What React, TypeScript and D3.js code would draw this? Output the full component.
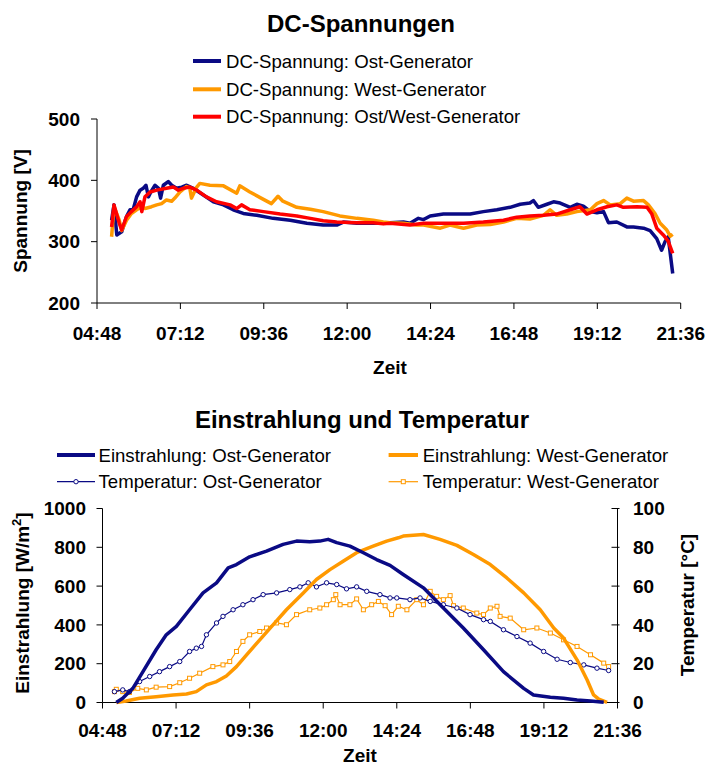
import React from 'react';
import * as d3 from 'd3';

const FONT = "'Liberation Sans', Arial, Helvetica, sans-serif";
const NAVY = '#0a0a84';
const ORANGE = '#ff9900';
const RED = '#ff0000';

// axis ticks
const timeTicks = [4.8, 7.2, 9.6, 12, 14.4, 16.8, 19.2, 21.6];
const voltTicks = [200, 300, 400, 500];
const irrTicks = [0, 200, 400, 600, 800, 1000];
const tempTicks = [0, 20, 40, 60, 80, 100];

// legend labels
const dcLabels = [
  'DC-Spannung: Ost-Generator',
  'DC-Spannung: West-Generator',
  'DC-Spannung: Ost/West-Generator',
];
const envLabels = [
  'Einstrahlung: Ost-Generator',
  'Einstrahlung: West-Generator',
  'Temperatur: Ost-Generator',
  'Temperatur: West-Generator',
];

// DC-Spannung Ost (time in decimal hours, V)
const dcOstTime = [5.22, 5.29, 5.37, 5.51, 5.65, 5.75, 5.84, 5.94, 6.04, 6.13, 6.21, 6.28, 6.35, 6.47, 6.57, 6.63, 6.71, 6.85, 6.95, 7.09, 7.24, 7.38, 7.57, 7.86, 8.15, 8.44, 8.72, 9.01, 9.4, 9.87, 10.36, 10.84, 11.31, 11.7, 11.89, 12.28, 12.75, 13.23, 13.62, 13.81, 14.05, 14.2, 14.39, 14.77, 15.15, 15.54, 15.92, 16.31, 16.69, 16.98, 17.26, 17.36, 17.5, 17.75, 17.94, 18.13, 18.42, 18.61, 18.8, 19.0, 19.19, 19.38, 19.52, 19.76, 20.05, 20.24, 20.53, 20.72, 20.91, 21.05, 21.15, 21.24, 21.37];
const dcOstV = [335, 360, 311, 316, 341, 352, 352, 373, 384, 387, 392, 373, 381, 392, 387, 371, 392, 398, 392, 387, 389, 392, 387, 376, 365, 360, 352, 346, 343, 338, 335, 330, 327, 327, 332, 330, 330, 331, 332, 330, 338, 336, 342, 345, 345, 345, 349, 352, 356, 361, 363, 367, 356, 361, 365, 363, 356, 361, 358, 349, 347, 349, 331, 332, 324, 324, 322, 318, 305, 286, 300, 308, 248];

// DC-Spannung West
const dcWestTime = [5.22, 5.29, 5.44, 5.51, 5.65, 5.79, 5.94, 6.09, 6.18, 6.37, 6.52, 6.66, 6.8, 6.95, 7.04, 7.19, 7.38, 7.47, 7.52, 7.67, 7.76, 8.05, 8.44, 8.82, 8.91, 9.2, 9.59, 9.82, 10.01, 10.15, 10.55, 10.94, 11.31, 11.79, 12.28, 12.75, 13.04, 13.23, 13.62, 14.0, 14.2, 14.68, 14.96, 15.35, 15.73, 16.12, 16.5, 16.88, 17.26, 17.65, 17.84, 18.03, 18.32, 18.61, 19.0, 19.19, 19.38, 19.57, 19.86, 20.05, 20.24, 20.53, 20.67, 20.86, 21.01, 21.2, 21.3, 21.37];
const dcWestV = [308, 357, 335, 318, 335, 346, 352, 357, 354, 357, 360, 362, 368, 366, 371, 381, 390, 387, 371, 389, 395, 392, 391, 379, 391, 381, 369, 362, 374, 366, 356, 353, 349, 342, 338, 335, 332, 331, 330, 327, 327, 322, 327, 322, 327, 328, 332, 338, 337, 343, 352, 343, 345, 349, 352, 362, 367, 360, 362, 371, 366, 367, 360, 346, 330, 319, 309, 312];

// DC-Spannung Ost/West
const dcBothTime = [5.22, 5.29, 5.44, 5.51, 5.65, 5.79, 5.94, 6.04, 6.09, 6.18, 6.33, 6.52, 6.8, 7.0, 7.14, 7.28, 7.47, 7.67, 7.95, 8.24, 8.63, 8.82, 8.96, 9.2, 9.59, 10.07, 10.55, 10.94, 11.31, 11.7, 12.28, 12.75, 13.04, 13.23, 13.81, 14.2, 14.77, 15.35, 15.92, 16.5, 16.88, 17.26, 17.65, 18.03, 18.42, 18.7, 18.9, 19.19, 19.48, 19.76, 19.95, 20.34, 20.63, 20.77, 20.91, 21.1, 21.24, 21.37];
const dcBothV = [324, 360, 330, 319, 341, 349, 357, 365, 349, 373, 381, 384, 387, 389, 384, 387, 389, 384, 373, 365, 360, 354, 360, 352, 349, 345, 342, 338, 334, 332, 331, 331, 329, 330, 327, 330, 330, 330, 332, 335, 340, 342, 343, 345, 352, 357, 345, 352, 357, 360, 356, 357, 356, 345, 322, 311, 301, 281];

// Einstrahlung Ost (W/m2)
const irrOstTime = [5.25, 5.46, 5.79, 6.12, 6.55, 6.88, 7.21, 7.64, 8.08, 8.52, 8.9, 9.17, 9.6, 10.15, 10.69, 11.13, 11.56, 11.89, 12.16, 12.44, 12.87, 13.31, 13.74, 14.18, 14.61, 15.27, 15.92, 16.57, 17.23, 17.88, 18.54, 18.86, 19.41, 19.84, 20.28, 20.72, 21.15];
const irrOstV = [0, 22, 73, 159, 272, 349, 392, 478, 565, 617, 694, 711, 751, 780, 815, 832, 829, 832, 841, 824, 806, 772, 737, 707, 660, 591, 487, 384, 272, 159, 73, 39, 27, 22, 13, 8, 1];

// Einstrahlung West (W/m2)
const irrWestTime = [5.25, 5.57, 6.01, 6.55, 7.1, 7.54, 7.86, 8.19, 8.52, 8.84, 9.17, 9.5, 9.93, 10.37, 10.8, 11.35, 11.78, 12.22, 12.65, 13.09, 13.63, 14.07, 14.45, 14.61, 15.27, 15.81, 16.36, 16.9, 17.45, 17.99, 18.54, 19.08, 19.52, 19.84, 20.28, 20.61, 20.82, 20.99, 21.26];
const irrWestV = [0, 8, 22, 30, 39, 44, 56, 91, 108, 137, 185, 246, 323, 401, 478, 565, 634, 685, 728, 772, 806, 832, 849, 858, 866, 841, 810, 763, 711, 642, 565, 478, 384, 332, 220, 116, 39, 17, 1];

// Temperatur Ost (°C)
const tempOstTime = [5.19, 5.46, 5.68, 6.01, 6.34, 6.66, 6.99, 7.32, 7.64, 7.86, 8.03, 8.19, 8.52, 8.73, 9.06, 9.38, 9.71, 10.04, 10.48, 10.91, 11.24, 11.51, 11.78, 12.11, 12.44, 12.76, 13.09, 13.42, 13.85, 14.18, 14.4, 14.83, 15.16, 15.49, 15.92, 16.36, 16.79, 17.23, 17.45, 17.88, 18.32, 18.75, 19.19, 19.63, 20.06, 20.5, 20.93, 21.31];
const tempOstV = [5.6, 6.5, 5.6, 10.8, 13.4, 15.9, 18.5, 21.1, 26.3, 28.0, 28.9, 34.9, 41, 44.4, 47.8, 50.4, 53, 55.6, 56.5, 58.2, 59.6, 61.7, 59.6, 61.7, 60.8, 58.6, 59.6, 57.3, 55.6, 53.9, 53.9, 53, 53.9, 52.1, 50.4, 48.7, 45.3, 42.7, 41.8, 37.5, 34, 30.6, 26.3, 22.3, 20.6, 19.4, 17.7, 16.5];

// Temperatur West (°C)
const tempWestTime = [5.19, 5.25, 5.46, 5.68, 5.95, 6.23, 6.55, 6.99, 7.32, 7.64, 7.97, 8.4, 8.73, 8.95, 9.17, 9.38, 9.6, 9.93, 10.15, 10.48, 10.8, 11.13, 11.56, 11.89, 12.11, 12.33, 12.41, 12.55, 12.87, 13.09, 13.31, 13.58, 13.8, 14.02, 14.23, 14.45, 14.73, 15.05, 15.27, 15.49, 15.7, 15.92, 16.14, 16.25, 16.57, 17.01, 17.23, 17.45, 17.67, 17.77, 18.1, 18.54, 18.97, 19.41, 19.84, 20.28, 20.72, 21.15, 21.31];
const tempWestV = [5.6, 6.8, 5.6, 5.2, 7.3, 6.5, 7.9, 8.2, 10.2, 12.5, 15.1, 18.5, 19.4, 21.1, 26.3, 31.5, 34.9, 36.6, 38.4, 41, 40.1, 45.3, 47.8, 48.7, 50.4, 53, 55.6, 50.4, 50.4, 53.4, 47.8, 50.4, 52.1, 49.9, 45.3, 49.6, 47.8, 53, 50.4, 57.3, 54.7, 53, 55.1, 49.9, 48.7, 46.1, 45.3, 48.7, 49.6, 44.4, 43.5, 37.5, 38.4, 35.8, 32.3, 28.9, 24.6, 20.3, 18.5];

const zip = (t: number[], v: number[]) => t.map((h, i) => [h, v[i]] as [number, number]);

const fmtTime = (h: number) => {
  const m = Math.round(h * 60);
  const hh = Math.floor(m / 60);
  const mm = m % 60;
  return `${String(hh).padStart(2, '0')}:${String(mm).padStart(2, '0')}`;
};

export default function App() {
  // top chart scales
  const xTop = d3.scaleLinear().domain([4.8, 21.6]).range([97, 680.7]);
  const yTop = d3.scaleLinear().domain([200, 500]).range([303, 119]);
  // bottom chart scales
  const xBot = d3.scaleLinear().domain([4.8, 21.6]).range([102.5, 617.5]);
  const yIrr = d3.scaleLinear().domain([0, 1000]).range([702.5, 508.5]);
  const yTemp = d3.scaleLinear().domain([0, 100]).range([702.5, 508.5]);

  const lineTop = d3.line<[number, number]>().x(d => xTop(d[0])).y(d => yTop(d[1]));
  const lineIrr = d3.line<[number, number]>().x(d => xBot(d[0])).y(d => yIrr(d[1]));
  const lineTemp = d3.line<[number, number]>().x(d => xBot(d[0])).y(d => yTemp(d[1]));

  const dcSeries = [
    { data: zip(dcOstTime, dcOstV), color: NAVY },
    { data: zip(dcWestTime, dcWestV), color: ORANGE },
    { data: zip(dcBothTime, dcBothV), color: RED },
  ];

  const tOst = zip(tempOstTime, tempOstV);
  const tWest = zip(tempWestTime, tempWestV);

  const tickFont = { fontFamily: FONT, fontSize: 19, fontWeight: 700, fill: '#000' } as const;
  const legFont = { fontFamily: FONT, fontSize: 18.6, fill: '#000' } as const;

  const [x0T, x1T] = xTop.range();
  const [x0B, x1B] = xBot.range();

  return (
    <svg width={709} height={767} style={{ position: 'absolute', left: 0, top: 0, background: '#fff' }}>
      <rect x={0} y={0} width={709} height={767} fill="#fff" />

      {/* ---------- TOP CHART ---------- */}
      <text x={361} y={32} textAnchor="middle" fontFamily={FONT} fontSize={24} fontWeight={700}>DC-Spannungen</text>
      {dcLabels.map((l, i) => {
        const y = [61, 89.3, 116.7][i];
        return (
          <g key={l}>
            <line x1={193} x2={221} y1={y} y2={y} stroke={dcSeries[i].color} strokeWidth={4} />
            <text x={226} y={y} dy="0.35em" {...legFont}>{l}</text>
          </g>
        );
      })}

      {/* axes */}
      <line x1={x0T} x2={x0T} y1={yTop(500)} y2={yTop(200)} stroke="#000" strokeWidth={1} />
      <line x1={x0T} x2={x1T} y1={yTop(200)} y2={yTop(200)} stroke="#000" strokeWidth={1} />
      {voltTicks.map(v => (
        <g key={v}>
          <line x1={x0T - 6} x2={x0T} y1={yTop(v)} y2={yTop(v)} stroke="#000" />
          <text x={80} y={yTop(v)} dy="0.35em" textAnchor="end" {...tickFont}>{v}</text>
        </g>
      ))}
      {timeTicks.map(h => (
        <g key={h}>
          <line x1={xTop(h)} x2={xTop(h)} y1={yTop(200)} y2={yTop(200) + 6} stroke="#000" />
          <text x={xTop(h)} y={340} textAnchor="middle" {...tickFont}>{fmtTime(h)}</text>
        </g>
      ))}
      <text x={390} y={373.5} textAnchor="middle" {...tickFont}>Zeit</text>
      <text transform={`translate(27,211) rotate(-90)`} textAnchor="middle" {...tickFont}>Spannung [V]</text>

      {dcSeries.map((s, i) => (
        <path key={i} d={lineTop(s.data) || ''} fill="none" stroke={s.color} strokeWidth={3.5} strokeLinejoin="round" />
      ))}

      {/* ---------- BOTTOM CHART ---------- */}
      <text x={362} y={428} textAnchor="middle" fontFamily={FONT} fontSize={24} fontWeight={700}>Einstrahlung und Temperatur</text>

      {/* legend */}
      <line x1={57} x2={95} y1={455} y2={455} stroke={NAVY} strokeWidth={4} />
      <text x={98.5} y={455} dy="0.35em" {...legFont}>{envLabels[0]}</text>
      <line x1={388.6} x2={418} y1={455} y2={455} stroke={ORANGE} strokeWidth={4} />
      <text x={422.7} y={455} dy="0.35em" {...legFont}>{envLabels[1]}</text>
      <line x1={57} x2={95} y1={481.7} y2={481.7} stroke={NAVY} strokeWidth={1.2} />
      <circle cx={76} cy={481.7} r={2.2} fill="#fff" stroke={NAVY} strokeWidth={1} />
      <text x={98.5} y={481.7} dy="0.35em" {...legFont}>{envLabels[2]}</text>
      <line x1={388.6} x2={418} y1={481.7} y2={481.7} stroke={ORANGE} strokeWidth={1.2} />
      <rect x={401.3} y={479.7} width={4} height={4} fill="#fff" stroke={ORANGE} strokeWidth={1} />
      <text x={422.7} y={481.7} dy="0.35em" {...legFont}>{envLabels[3]}</text>

      {/* axes */}
      <line x1={x0B} x2={x0B} y1={yIrr(1000)} y2={yIrr(0)} stroke="#000" />
      <line x1={x1B} x2={x1B} y1={yIrr(1000)} y2={yIrr(0)} stroke="#000" />
      <line x1={x0B} x2={x1B} y1={yIrr(0)} y2={yIrr(0)} stroke="#000" />
      {irrTicks.map(v => (
        <g key={v}>
          <line x1={x0B - 6} x2={x0B} y1={yIrr(v)} y2={yIrr(v)} stroke="#000" />
          <text x={86} y={yIrr(v)} dy="0.35em" textAnchor="end" {...tickFont}>{v}</text>
        </g>
      ))}
      {tempTicks.map(v => (
        <g key={v}>
          <line x1={x1B - 6} x2={x1B + 2} y1={yTemp(v)} y2={yTemp(v)} stroke="#000" />
          <text x={633} y={yTemp(v)} dy="0.35em" textAnchor="start" {...tickFont}>{v}</text>
        </g>
      ))}
      {timeTicks.map(h => (
        <g key={h}>
          <line x1={xBot(h)} x2={xBot(h)} y1={yIrr(0)} y2={yIrr(0) + 6} stroke="#000" />
          <text x={xBot(h)} y={737} textAnchor="middle" {...tickFont}>{fmtTime(h)}</text>
        </g>
      ))}
      <text x={360} y={762} textAnchor="middle" {...tickFont}>Zeit</text>
      <text transform={`translate(28.5,603) rotate(-90)`} textAnchor="middle" {...tickFont}>
        Einstrahlung [W/m<tspan fontSize={13} dy={-8}>2</tspan><tspan dy={8}>]</tspan>
      </text>
      <text transform={`translate(693.5,605) rotate(-90)`} textAnchor="middle" {...tickFont}>Temperatur [°C]</text>

      {/* temperature series */}
      <path d={lineTemp(tWest) || ''} fill="none" stroke={ORANGE} strokeWidth={1.2} />
      {tWest.map((d, i) => (
        <rect key={i} x={xBot(d[0]) - 2} y={yTemp(d[1]) - 2} width={4} height={4} fill="#fff" stroke={ORANGE} strokeWidth={1} />
      ))}
      <path d={lineTemp(tOst) || ''} fill="none" stroke={NAVY} strokeWidth={1.2} />
      {tOst.map((d, i) => (
        <circle key={i} cx={xBot(d[0])} cy={yTemp(d[1])} r={2.2} fill="#fff" stroke={NAVY} strokeWidth={1} />
      ))}

      {/* irradiance series */}
      <path d={lineIrr(zip(irrWestTime, irrWestV)) || ''} fill="none" stroke={ORANGE} strokeWidth={3.5} strokeLinejoin="round" />
      <path d={lineIrr(zip(irrOstTime, irrOstV)) || ''} fill="none" stroke={NAVY} strokeWidth={3.5} strokeLinejoin="round" />
    </svg>
  );
}
